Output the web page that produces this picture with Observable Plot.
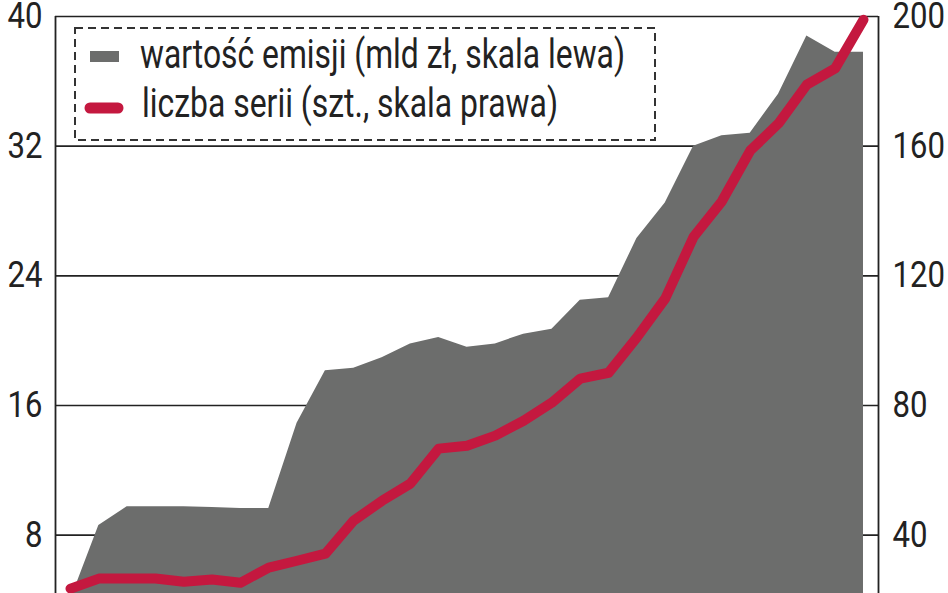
<!DOCTYPE html>
<html>
<head>
<meta charset="utf-8">
<script src="https://cdn.jsdelivr.net/npm/d3@7"></script>
<script src="https://cdn.jsdelivr.net/npm/@observablehq/plot@0.6"></script>
<style>
  html, body { margin: 0; padding: 0; background: #fff; }
  #chart { position: relative; width: 948px; height: 593px; overflow: hidden; }
</style>
</head>
<body>
<div id="chart"></div>
<script>
// Kolejne okresy (kwartały), oś X bez etykiet
const okresy = d3.range(29);
// wartość emisji, mld zł (skala lewa)
const wartoscEmisji = [4.0, 8.6, 9.75, 9.75, 9.75, 9.7, 9.65, 9.65, 14.9, 18.15, 18.3, 18.95, 19.8, 20.2, 19.6, 19.8, 20.4, 20.7, 22.5, 22.65, 26.3, 28.5, 32.0, 32.65, 32.8, 35.2, 38.8, 37.8, 37.8];
// liczba serii, szt. (skala prawa)
const liczbaSerii = [23.5, 26.6, 26.6, 26.6, 25.6, 26.3, 25.3, 30.0, 32.1, 34.3, 44.5, 50.6, 55.9, 66.7, 67.6, 70.7, 75.3, 80.9, 88.3, 90.1, 101, 113, 132, 143, 158.6, 167, 179, 184, 199];

const leftTicks = [8, 16, 24, 32, 40];
const rightTicks = [40, 80, 120, 160, 200];
const ratio = 5; // prawa skala = lewa * 5

const legendLabels = ["wartość emisji (mld zł, skala lewa)", "liczba serii (szt., skala prawa)"];

const colorArea = "#6c6d6c";
const colorLine = "#c4183f";
const ink = "#222";
const font = "Roboto, 'Liberation Sans', sans-serif";

const data = okresy.map((o, i) => ({o, wartosc: wartoscEmisji[i], liczba: liczbaSerii[i]}));
const xDomain = [-0.53, 28.53];
const yDomain = [4.4, 40];

const plot = Plot.plot({
  width: 948,
  height: 593,
  marginLeft: 55,
  marginRight: 70,
  marginTop: 16,
  marginBottom: 0,
  style: {fontFamily: font, color: ink, background: "#fff"},
  x: {domain: xDomain, axis: null},
  y: {domain: yDomain, axis: null},
  marks: [
    Plot.gridY(leftTicks, {stroke: ink, strokeOpacity: 1, strokeWidth: 1.6}),
    Plot.areaY(data, {x: "o", y: "wartosc", fill: colorArea, clip: true}),
    Plot.ruleX([xDomain[0], xDomain[1]], {stroke: ink, strokeWidth: 1.8}),
    Plot.lineY(data, {x: "o", y: d => d.liczba / ratio, stroke: colorLine, strokeWidth: 10, strokeLinejoin: "round", strokeLinecap: "round"}),
    Plot.axisY(leftTicks, {anchor: "left", tickSize: 0, tickPadding: 13, fontSize: 36, label: null, fill: ink}),
    Plot.axisY(rightTicks.map(t => t / ratio), {anchor: "right", tickSize: 0, tickPadding: 14, fontSize: 36, label: null, fill: ink, tickFormat: d => String(Math.round(d * ratio))})
  ]
});

document.getElementById("chart").appendChild(plot);

const svg = d3.select(plot);
// Wąskie cyfry, jak w oryginale (czcionka skondensowana) – na razie jedyne teksty w SVG to etykiety osi
svg.selectAll("text").each(function() {
  const n = this.textContent.length;
  this.setAttribute("textLength", n * 17.5);
  this.setAttribute("lengthAdjust", "spacingAndGlyphs");
});

// Legenda wewnątrz wykresu
const lg = svg.append("g").attr("class", "legend").attr("text-anchor", "start");
lg.append("rect")
  .attr("x", 75).attr("y", 28).attr("width", 580).attr("height", 112)
  .attr("fill", "#fff").attr("stroke", "#333").attr("stroke-width", 2)
  .attr("stroke-dasharray", "8,5");
lg.append("rect")
  .attr("x", 90).attr("y", 51).attr("width", 29).attr("height", 11)
  .attr("fill", colorArea);
lg.append("line")
  .attr("x1", 90).attr("x2", 118).attr("y1", 108).attr("y2", 108)
  .attr("stroke", colorLine).attr("stroke-width", 11).attr("stroke-linecap", "round");
const widths = [485, 416];
const xs = [140, 142];
const baselines = [68, 117];
legendLabels.forEach((t, i) => {
  lg.append("text")
    .attr("x", xs[i]).attr("y", baselines[i])
    .attr("text-anchor", "start")
    .attr("font-family", font).attr("font-size", 40).attr("fill", ink)
    .attr("textLength", widths[i]).attr("lengthAdjust", "spacingAndGlyphs")
    .text(t);
});
</script>
</body>
</html>
